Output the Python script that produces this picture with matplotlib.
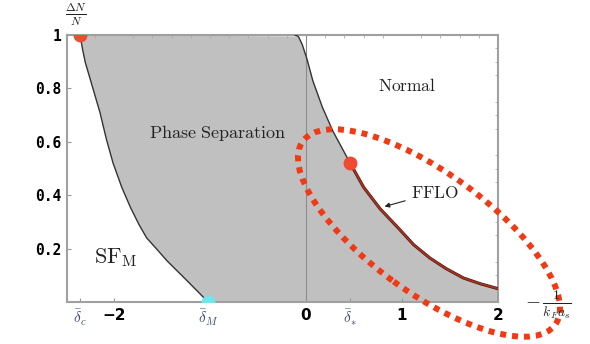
import numpy as np
import matplotlib
matplotlib.use("Agg")
import matplotlib.pyplot as plt
from matplotlib.patches import Ellipse

plt.rcParams['mathtext.fontset'] = 'cm'

# phase boundaries
left_x = [-2.354, -2.33, -2.30, -2.22, -2.146, -2.08, -2.01, -1.92, -1.83, -1.74, -1.66, -1.56, -1.45, -1.24, -1.02]
left_y = [1.0, 0.95, 0.898, 0.80, 0.709, 0.61, 0.52, 0.43, 0.355, 0.29, 0.24, 0.20, 0.155, 0.08, 0.0]
norm_x = [-0.115, -0.08, -0.04, 0.01, 0.07, 0.17, 0.28, 0.37, 0.46]
norm_y = [1.0, 0.995, 0.965, 0.91, 0.83, 0.73, 0.64, 0.58, 0.52]
fflo_x = [0.46, 0.60, 0.77, 0.98, 1.12, 1.29, 1.46, 1.64, 1.82, 2.0]
fflo_y = [0.52, 0.43, 0.35, 0.27, 0.215, 0.165, 0.125, 0.09, 0.068, 0.05]

# special points
d_c, d_M, d_star = -2.354, -1.02, 0.46
tick_pos = [d_c, -2, d_M, 0, d_star, 1, 2]
tick_lab = [r'$\bar{\delta}_c$', u'\u22122', r'$\bar{\delta}_M$', '0', r'$\bar{\delta}_{*}$', '1', '2']
ytick_pos = [0.2, 0.4, 0.6, 0.8, 1.0]
ytick_lab = ['0.2', '0.4', '0.6', '0.8', '1']

fig = plt.figure(figsize=(5.9, 3.44), dpi=100)
ax = fig.add_axes([0.1136, 0.122, 0.7305, 0.776])

# shaded phase separation region
px = left_x + [2.0] + fflo_x[::-1] + norm_x[1:][::-1]
py = left_y + [0.0] + fflo_y[::-1] + norm_y[1:][::-1]
ax.fill(px, py, color='#c0c0c0', zorder=1, lw=0)

ax.axvline(0, color='#8a8a8a', lw=0.8, zorder=2)
ax.plot(left_x, left_y, color='#333333', lw=1.0, zorder=3)
ax.plot(norm_x, norm_y, color='#333333', lw=1.0, zorder=3)
ax.plot(fflo_x, fflo_y, color='#3a1a10', lw=2.2, zorder=3, solid_capstyle='butt')
ax.plot(fflo_x, fflo_y, color='#b03020', lw=1.3, zorder=4, solid_capstyle='butt')

ax.plot([d_star], [0.52], 'o', color='#f04a30', ms=9, zorder=5)
ax.plot([d_c], [1.0], 'o', color='#f04a30', ms=9, zorder=5)
ax.plot([d_M], [0.0], 'o', color='#6ee6ec', ms=9, zorder=5)

ax.set_xlim(-2.49, 2.0)
ax.set_ylim(0, 1.0)

ax.set_xticks(tick_pos)
ax.set_xticklabels(tick_lab)
ax.set_yticks(ytick_pos)
ax.set_yticklabels(ytick_lab)
for t in ax.get_yticklabels():
    t.set_fontfamily('DejaVu Sans Mono')
    t.set_fontweight('bold')
    t.set_fontsize(10.5)
for t in ax.get_xticklabels():
    if t.get_text().startswith('$'):
        t.set_color('#3a4a80')
        t.set_fontsize(11)
    else:
        t.set_fontfamily('DejaVu Sans')
        t.set_fontweight('bold')
        t.set_fontsize(11)
ax.set_xticks(np.arange(-2.4, 2.01, 0.2), minor=True)
ax.set_yticks(np.arange(0, 1.01, 0.05), minor=True)
ax.tick_params(which='major', direction='in', length=3, color='#999999', pad=4)
ax.tick_params(which='minor', direction='in', length=2, color='#aaaaaa',
               bottom=False, left=False, top=True, right=True)
for s in ax.spines.values():
    s.set_color('#a0a0a0')
    s.set_linewidth(1.5)

ax.text(-0.92, 0.635, r'$\mathrm{Phase\ Separation}$', fontsize=13, ha='center', va='center', color='#222222')
ax.text(1.05, 0.81, r'$\mathrm{Normal}$', fontsize=12.5, ha='center', va='center', color='#222222')
ax.text(-1.98, 0.165, r'$\mathrm{SF}_{\mathrm{M}}$', fontsize=16, ha='center', va='center', color='#222222')
ax.annotate(r'$\mathrm{FFLO}$', xy=(0.79, 0.355), xytext=(1.09, 0.41),
            fontsize=12.5, va='center', ha='left', color='#222222',
            arrowprops=dict(arrowstyle='-|>', color='#222222', lw=0.8, mutation_scale=7))

fig.text(0.129, 0.956, r'$\frac{\Delta N}{N}$', fontsize=12, ha='center', va='center', color='#222222')
fig.text(0.93, 0.113, r'$-\,\frac{1}{k_F a_s}$', fontsize=14, ha='center', va='center', color='#222222')

# dotted highlight ellipse
ell = Ellipse((4.29, 1.11), 3.12, 1.2, angle=-36, fill=False, edgecolor='#f03a14',
              lw=4.3, linestyle=(0, (1, 1)), transform=fig.dpi_scale_trans, clip_on=False)
fig.add_artist(ell)

fig.savefig('out.png', dpi=100)
